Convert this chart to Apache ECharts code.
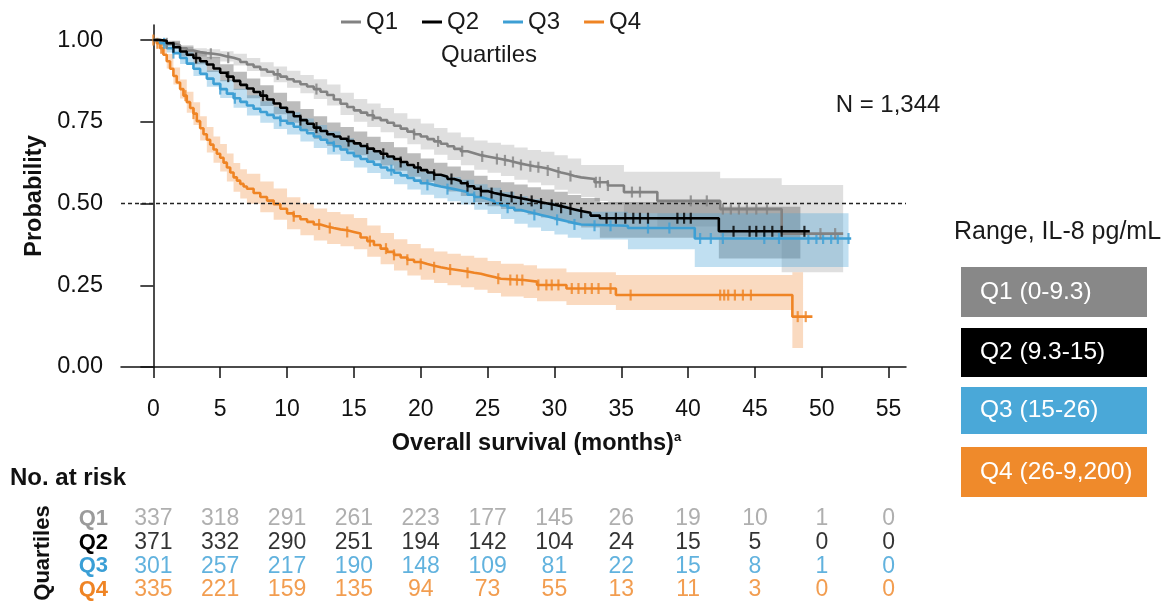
<!DOCTYPE html>
<html>
<head>
<meta charset="utf-8">
<script src="https://cdn.jsdelivr.net/npm/echarts@6/dist/echarts.min.js"></script>
<style>html,body{margin:0;padding:0;background:#fff;}#c{width:1171px;height:606px;}</style>
</head>
<body>
<div id="c"></div>
<script>
// ---------- data ----------
const xTicks = [0,5,10,15,20,25,30,35,40,45,50,55];
const yTicks = [0,0.25,0.5,0.75,1];
const quartiles = ['Q1','Q2','Q3','Q4'];

// Kaplan-Meier estimates (time in months, survival probability)
const q1Time = [0,0.5,1,1.5,2,2.5,3,3.5,4,4.5,5,5.5,6,6.5,7,7.5,8,8.5,9,9.5,10,10.5,11,11.5,12,12.5,13,13.5,14,14.5,15,15.5,16,16.5,17,17.5,18,18.5,19,19.5,20,20.5,21,21.5,22,22.5,23,23.5,24,24.5,25,25.5,26,26.5,27,27.5,28,28.5,29,29.5,30,30.5,31,31.5,32,33,34,35.2,37.7,42.4,47.0,51.6];
const q1Surv = [1.000,0.998,0.990,0.984,0.975,0.968,0.963,0.960,0.958,0.955,0.950,0.946,0.940,0.933,0.925,0.918,0.910,0.903,0.895,0.888,0.880,0.873,0.865,0.858,0.850,0.842,0.832,0.818,0.805,0.795,0.785,0.778,0.770,0.762,0.755,0.747,0.738,0.729,0.720,0.712,0.705,0.697,0.690,0.683,0.675,0.667,0.660,0.654,0.648,0.644,0.640,0.636,0.632,0.627,0.622,0.618,0.614,0.611,0.607,0.601,0.595,0.590,0.584,0.580,0.575,0.565,0.555,0.535,0.508,0.483,0.408,0.408];

const q2Time = [0,0.5,1,1.5,2,2.5,3,3.5,4,4.5,5,5.5,6,6.5,7,7.5,8,8.5,9,9.5,10,10.5,11,11.5,12,12.5,13,13.5,14,14.5,15,15.5,16,16.5,17,17.5,18,18.5,19,19.5,20,20.5,21,21.5,22,22.5,23,23.5,24,24.5,25,25.5,26,26.5,27,27.5,28,28.5,29,29.5,30,30.5,31,31.5,32,32.7,33.4,42.3,49.1];
const q2Surv = [1.000,0.998,0.990,0.978,0.965,0.955,0.945,0.935,0.925,0.913,0.900,0.888,0.875,0.863,0.852,0.841,0.830,0.818,0.806,0.793,0.780,0.767,0.755,0.744,0.732,0.722,0.712,0.705,0.698,0.691,0.684,0.676,0.668,0.660,0.652,0.644,0.636,0.627,0.618,0.610,0.602,0.595,0.588,0.582,0.575,0.569,0.562,0.553,0.545,0.538,0.532,0.528,0.524,0.520,0.516,0.512,0.508,0.504,0.500,0.496,0.492,0.487,0.482,0.477,0.472,0.463,0.455,0.415,0.415];

const q3Time = [0,0.5,1,1.5,2,2.5,3,3.5,4,4.5,5,5.5,6,6.5,7,7.5,8,8.5,9,9.5,10,10.5,11,11.5,12,12.5,13,13.5,14,14.5,15,15.5,16,16.5,17,17.5,18,18.5,19,19.5,20,20.5,21,21.5,22,22.5,23,23.5,24,24.5,25,25.5,26,26.5,27,27.5,28,28.5,29,29.5,30,30.5,31,31.5,32,35.5,40.5,52.2];
const q3Surv = [1.000,0.990,0.975,0.960,0.945,0.928,0.912,0.897,0.882,0.866,0.850,0.836,0.822,0.811,0.800,0.790,0.780,0.771,0.762,0.753,0.745,0.735,0.725,0.715,0.705,0.695,0.685,0.675,0.665,0.655,0.645,0.636,0.628,0.619,0.610,0.602,0.594,0.586,0.578,0.570,0.562,0.557,0.552,0.548,0.544,0.540,0.535,0.527,0.520,0.514,0.508,0.501,0.494,0.487,0.480,0.475,0.470,0.465,0.460,0.455,0.450,0.445,0.440,0.436,0.432,0.425,0.393,0.393];

const q4Time = [0,0.25,0.5,0.75,1,1.25,1.5,1.75,2,2.25,2.5,2.75,3,3.25,3.5,3.75,4,4.25,4.5,4.75,5,5.25,5.5,5.75,6,6.25,6.5,6.75,7,7.5,8,8.5,9,9.5,10,10.5,11,11.5,12,12.5,13,13.5,14,14.5,15,15.5,16,16.5,17,17.5,18,18.5,19,19.5,20,20.5,21,21.5,22,22.5,23,23.5,24,24.5,25,25.5,26,27.7,28.7,30.9,34.6,47.8,49.3];
const q4Surv = [1.000,0.990,0.975,0.955,0.935,0.912,0.890,0.870,0.850,0.830,0.810,0.792,0.775,0.752,0.730,0.712,0.695,0.680,0.665,0.652,0.640,0.625,0.610,0.595,0.580,0.570,0.560,0.552,0.545,0.532,0.520,0.509,0.498,0.484,0.470,0.461,0.452,0.444,0.436,0.430,0.425,0.421,0.418,0.413,0.408,0.396,0.385,0.373,0.362,0.352,0.343,0.335,0.328,0.321,0.315,0.310,0.305,0.301,0.298,0.295,0.292,0.288,0.285,0.280,0.275,0.270,0.266,0.261,0.251,0.240,0.220,0.154,0.154];

// 95% confidence bands (coarser time grid)
const q1BandTime = [0,1,2,3,4,5,6,7,8,9,10,11,12,13,14,15,16,17,18,19,20,21,22,23,24,25,26,27,28,29,30,31,32,33,34,35.2,37.7,42.4,47.0,51.6];
const q1Lower = [1.00,0.985,0.965,0.950,0.944,0.934,0.922,0.905,0.888,0.871,0.854,0.837,0.820,0.800,0.771,0.750,0.734,0.718,0.700,0.681,0.665,0.649,0.633,0.617,0.603,0.594,0.584,0.573,0.564,0.556,0.542,0.530,0.520,0.508,0.497,0.470,0.430,0.400,0.290,0.290];
const q1Upper = [1.00,0.995,0.985,0.975,0.972,0.966,0.958,0.945,0.932,0.919,0.906,0.893,0.880,0.864,0.839,0.820,0.806,0.792,0.776,0.759,0.745,0.731,0.717,0.703,0.693,0.686,0.680,0.671,0.664,0.658,0.648,0.638,0.618,0.618,0.618,0.597,0.597,0.577,0.557,0.557];

const q2BandTime = [0,1,2,3,4,5,6,7,8,9,10,11,12,13,14,15,16,17,18,19,20,21,22,23,24,25,26,27,28,29,30,31,32,33.4,42.3,48.4];
const q2Lower = [1.00,0.982,0.950,0.926,0.902,0.874,0.847,0.822,0.798,0.773,0.747,0.721,0.697,0.676,0.662,0.648,0.632,0.616,0.600,0.582,0.566,0.551,0.537,0.523,0.505,0.492,0.483,0.474,0.466,0.457,0.448,0.438,0.427,0.395,0.332,0.332];
const q2Upper = [1.00,0.998,0.980,0.964,0.948,0.926,0.903,0.882,0.862,0.839,0.813,0.789,0.767,0.748,0.734,0.720,0.704,0.688,0.672,0.654,0.638,0.625,0.613,0.601,0.585,0.572,0.565,0.558,0.550,0.543,0.536,0.526,0.517,0.505,0.490,0.490];

const q3BandTime = [0,0.5,1,2,3,4,5,6,7,8,9,10,11,12,13,14,15,16,17,18,19,20,21,22,23,24,25,26,27,28,29,30,31,32,35.5,40.5,52.0];
const q3Lower = [1.00,0.982,0.962,0.927,0.890,0.857,0.823,0.793,0.769,0.747,0.728,0.711,0.690,0.670,0.650,0.630,0.610,0.593,0.575,0.559,0.543,0.527,0.516,0.507,0.497,0.481,0.468,0.453,0.438,0.427,0.416,0.405,0.395,0.390,0.360,0.306,0.306];
const q3Upper = [1.00,0.998,0.988,0.963,0.934,0.907,0.877,0.851,0.831,0.813,0.796,0.779,0.760,0.740,0.720,0.700,0.680,0.663,0.645,0.629,0.613,0.597,0.588,0.581,0.573,0.559,0.548,0.535,0.522,0.513,0.504,0.495,0.485,0.475,0.470,0.470,0.470];

const q4BandTime = [0,0.5,1,1.5,2,2.5,3,3.5,4,4.5,5,5.5,6,6.5,7,8,9,10,11,12,13,14,15,16,17,18,19,20,21,22,23,24,25,26,27.7,28.7,30.9,34.6,47.8,48.6];
const q4Lower = [1.00,0.958,0.913,0.864,0.821,0.778,0.740,0.693,0.656,0.625,0.598,0.567,0.536,0.515,0.499,0.473,0.450,0.421,0.403,0.387,0.376,0.369,0.360,0.337,0.314,0.295,0.280,0.267,0.257,0.250,0.244,0.236,0.226,0.216,0.211,0.201,0.190,0.174,0.058,0.058];
const q4Upper = [1.00,0.992,0.957,0.916,0.879,0.842,0.810,0.767,0.734,0.705,0.682,0.653,0.624,0.605,0.591,0.567,0.546,0.519,0.501,0.485,0.474,0.467,0.456,0.433,0.410,0.391,0.376,0.363,0.353,0.346,0.340,0.334,0.324,0.316,0.311,0.301,0.290,0.281,0.290,0.290];

// censoring times
const q1Censor = [1.0,4.3,5.6,9.3,12.2,16.4,19.5,21.3,23.1,24.6,25.7,26.3,26.9,27.5,28.2,28.8,29.5,30.3,31.2,33.1,33.4,34.0,35.8,36.4,40.2,41.4,42.6,43.2,43.8,44.4,45.1,45.9,49.9,51.0];
const q2Censor = [1.5,3.2,5.6,8.2,11.0,12.2,14.6,16.0,17.2,18.5,19.8,21.0,22.3,23.5,24.5,25.3,26.0,26.8,27.5,28.3,29.0,29.8,30.5,31.2,32.0,33.9,34.6,35.3,35.9,36.4,37.0,39.2,39.7,40.2,43.4,44.6,45.1,45.7,46.3,47.0,48.7];
const q3Censor = [0.8,1.5,5.0,6.1,9.5,13.5,17.8,20.5,22.0,24.0,26.5,28.5,30.2,31.5,33.0,34.2,37.0,38.6,40.9,41.7,42.6,45.7,46.8,49.0,49.6,50.1,50.7,51.2,52.0];
const q4Censor = [0.0,0.3,0.6,2.4,3.0,10.5,12.4,13.2,14.5,16.2,17.4,18.0,19.0,20.0,21.0,22.2,23.5,25.8,26.7,27.2,27.6,28.8,29.4,29.8,30.3,31.3,31.8,32.3,32.8,33.3,34.2,35.7,42.4,42.7,43.0,43.5,44.1,44.7,48.2,48.8];

// number at risk
const riskTimes = [0,5,10,15,20,25,30,35,40,45,50,55];
const q1Risk = [337,318,291,261,223,177,145,26,19,10,1,0];
const q2Risk = [371,332,290,251,194,142,104,24,15,5,0,0];
const q3Risk = [301,257,217,190,148,109,81,22,15,8,1,0];
const q4Risk = [335,221,159,135,94,73,55,13,11,3,0,0];

const rangeLabels = ['Q1 (0-9.3)','Q2 (9.3-15)','Q3 (15-26)','Q4 (26-9,200)'];

// ---------- styling ----------
const FONT = '"Liberation Sans", Arial, Helvetica, sans-serif';
const lineColors = ['#828282','#000000','#3d9fd4','#ef8424'];
const bandColors = ['rgba(150,150,150,0.30)','rgba(95,95,95,0.42)','rgba(80,165,215,0.36)','rgba(240,140,60,0.32)'];
const riskColors = ['#9b9b9b','#000000','#3a9fd6','#ef8424'];
const boxColors = ['#888888','#000000','#4aa8d8','#ef8a2b'];

const curves = [
  {t:q1Time, s:q1Surv, bt:q1BandTime, lo:q1Lower, hi:q1Upper, c:q1Censor},
  {t:q2Time, s:q2Surv, bt:q2BandTime, lo:q2Lower, hi:q2Upper, c:q2Censor},
  {t:q3Time, s:q3Surv, bt:q3BandTime, lo:q3Lower, hi:q3Upper, c:q3Censor},
  {t:q4Time, s:q4Surv, bt:q4BandTime, lo:q4Lower, hi:q4Upper, c:q4Censor}
];
const risks = [q1Risk,q2Risk,q3Risk,q4Risk];

function stepAt(t, s, x){ let v = s[0]; for (let i=0;i<t.length;i++){ if (t[i] <= x + 1e-9) v = s[i]; } return v; }

const series = [];
// confidence bands
curves.forEach((cv, k) => {
  const data = cv.bt.map((x,i)=>[x, cv.lo[i], cv.hi[i]]);
  series.push({
    type:'custom', name: quartiles[k]+' CI', xAxisIndex:0, yAxisIndex:0, silent:true, z:1,
    data, encode:{x:0, y:[1,2]},
    renderItem: function(params, api){
      if (params.dataIndex !== 0) return null;
      const up = [], dn = [];
      for (let i=0;i<data.length-1;i++){
        const a = data[i][0], b = data[i+1][0];
        up.push(api.coord([a, data[i][2]]), api.coord([b, data[i][2]]));
        dn.push(api.coord([a, data[i][1]]), api.coord([b, data[i][1]]));
      }
      return {type:'polygon', shape:{points: up.concat(dn.reverse())}, style:{fill: bandColors[k]}};
    }
  });
});
// KM step lines (draw order Q4, Q3, Q1, Q2)
[3,2,0,1].forEach((k, order) => {
  const cv = curves[k];
  const s = {
    type:'line', name: quartiles[k], xAxisIndex:0, yAxisIndex:0, step:'end', showSymbol:false, symbol:'none',
    data: cv.t.map((x,i)=>[x, cv.s[i]]), z: 3 + order,
    lineStyle:{color: lineColors[k], width:2.6}, itemStyle:{color: lineColors[k]}, silent:true
  };
  if (k === 0) {
    s.markLine = {silent:true, symbol:['none','none'], label:{show:false},
      lineStyle:{type:[4,3], color:'#222', width:1.3}, data:[{yAxis:0.5}]};
  }
  series.push(s);
  series.push({
    type:'scatter', name: quartiles[k]+' censored', xAxisIndex:0, yAxisIndex:0, silent:true, z: 3 + order,
    symbol:'rect', symbolSize:[2.2, 11],
    itemStyle:{color: lineColors[k]},
    data: cv.c.map(x => [x, stepAt(cv.t, cv.s, x)])
  });
});
// number-at-risk table
risks.forEach((r, k) => {
  series.push({
    type:'scatter', name: quartiles[k]+' at risk', xAxisIndex:1, yAxisIndex:1, silent:true,
    symbolSize:1, itemStyle:{color:'rgba(0,0,0,0)'},
    data: riskTimes.map((x,i)=>[x, quartiles[k], r[i]]),
    encode:{x:0, y:1},
    label:{show:true, position:'inside', formatter: p => String(p.value[2]), color: riskColors[k], fontSize:23, fontFamily:FONT}
  });
});

const rich = {};
quartiles.forEach((q,k)=>{ rich[q] = {color: riskColors[k], fontWeight:'bold', fontSize:22, fontFamily:FONT}; });

const graphics = [
  {type:'text', x:489, y:55, style:{text:'Quartiles', font:'24px '+FONT, fill:'#1a1a1a', textAlign:'center', textVerticalAlign:'middle'}},
  {type:'text', x:888, y:105, style:{text:'N = 1,344', font:'24px '+FONT, fill:'#1a1a1a', textAlign:'center', textVerticalAlign:'middle'}},
  {type:'text', x:954, y:232, style:{text:'Range, IL-8 pg/mL', font:'25px '+FONT, fill:'#1a1a1a', textAlign:'left', textVerticalAlign:'middle'}},
  {type:'text', x:10, y:478, style:{text:'No. at risk', font:'bold 24px '+FONT, fill:'#111', textAlign:'left', textVerticalAlign:'middle'}},
  {type:'text', x:43, y:553, rotation:Math.PI/2, style:{text:'Quartiles', font:'bold 22px '+FONT, fill:'#111', textAlign:'center', textVerticalAlign:'middle'}}
];
const boxY = [267, 328, 387, 447];
const boxH = [50, 49, 47, 50];
rangeLabels.forEach((lab, k) => {
  graphics.push({type:'rect', shape:{x:961, y:boxY[k], width:186, height:boxH[k]}, style:{fill: boxColors[k]}});
  graphics.push({type:'text', x:980, y:boxY[k] + boxH[k]/2, style:{text: lab, font:'24.5px '+FONT, fill:'#ffffff', textAlign:'left', textVerticalAlign:'middle'}});
});

const chart = echarts.init(document.getElementById('c'), null, {renderer:'canvas'});
chart.setOption({
  animation:false,
  backgroundColor:'#ffffff',
  textStyle:{fontFamily:FONT},
  legend:{
    data: quartiles, left:336, top:5, icon:'rect', itemWidth:20, itemHeight:3, itemGap:24,
    textStyle:{fontSize:24, color:'#1a1a1a', fontFamily:FONT}, selectedMode:false
  },
  grid:[
    {left:121, right:265, top:25, bottom:239},
    {left:121, right:265, top:507, height:95}
  ],
  xAxis:[
    {type:'value', gridIndex:0, min:-2.42, max:56.3,
     axisLine:{show:true, onZero:false, lineStyle:{color:'#111', width:1.5}},
     axisTick:{show:true, customValues:xTicks, length:11, lineStyle:{color:'#111', width:1.5}},
     axisLabel:{customValues:xTicks, fontSize:23, color:'#111', margin:31, fontFamily:FONT},
     splitLine:{show:false},
     name:'{m|Overall survival (months)}{s|a}', nameLocation:'middle', nameGap:64,
     nameTextStyle:{padding:[0,0,0,46], rich:{
       m:{fontSize:23.5, fontWeight:'bold', color:'#111', fontFamily:FONT, lineHeight:26},
       s:{fontSize:13, fontWeight:'bold', color:'#111', fontFamily:FONT, verticalAlign:'top', lineHeight:26}
     }}},
    {type:'value', gridIndex:1, min:-2.42, max:56.3, show:false}
  ],
  yAxis:[
    {type:'value', gridIndex:0, min:0, max:1.046,
     axisLine:{show:true, lineStyle:{color:'#111', width:1.5}},
     axisTick:{show:true, customValues:yTicks, length:13, lineStyle:{color:'#111', width:1.5}},
     axisLabel:{customValues:yTicks, formatter: v => v.toFixed(2), fontSize:23.5, color:'#111', margin:18, fontFamily:FONT},
     splitLine:{show:false},
     name:'Probability', nameLocation:'middle', nameGap:74,
     nameTextStyle:{fontSize:23.5, fontWeight:'bold', color:'#111', fontFamily:FONT}},
    {type:'category', gridIndex:1, data:quartiles, inverse:true,
     axisLine:{show:false}, axisTick:{show:false}, splitLine:{show:false},
     axisLabel:{margin:13, formatter: v => '{'+v+'|'+v+'}', rich: rich}}
  ],
  graphic: graphics,
  series: series
});
</script>
</body>
</html>
